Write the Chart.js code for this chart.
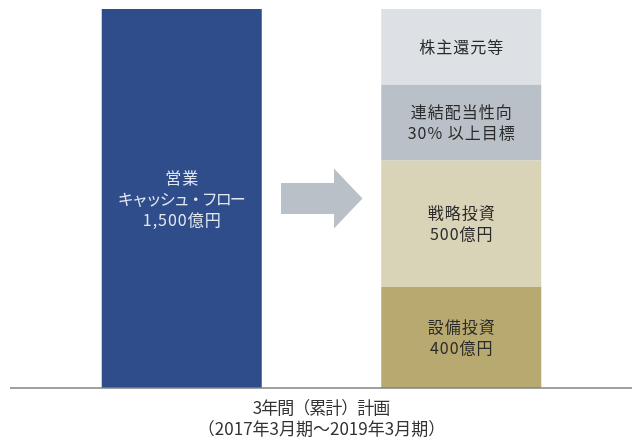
<!DOCTYPE html>
<html>
<head>
<meta charset="utf-8">
<script src="https://cdn.jsdelivr.net/npm/chart.js@4"></script>
<style>
  html, body { margin: 0; padding: 0; background: #ffffff; }
  #wrap { width: 632px; height: 447px; position: relative; }
</style>
</head>
<body>
<div id="wrap"><canvas id="c"></canvas></div>
<script>
// Categories: cash generated (left) and how it is allocated (right)
const categories = ['営業キャッシュ・フロー', '配分'];

// Values in 億円
const operatingCashFlow = [1500, null];
const capitalInvestment = [null, 400];
const strategicInvestment = [null, 500];
const dividendPolicy = [null, 300];
const shareholderReturns = [null, 300];

// Text drawn inside each bar / segment
const cashFlowLabel = ['営業', 'キャッシュ・フロー', '1,500億円'];
const capitalLabel = ['設備投資', '400億円'];
const strategicLabel = ['戦略投資', '500億円'];
const dividendLabel = ['連結配当性向', '30% 以上目標'];
const returnsLabel = ['株主還元等'];

// Period caption under the baseline
const periodCaption = ['3年間（累計）計画', '（2017年3月期～2019年3月期）'];

const FONT = '"Noto Sans CJK JP", "Noto Sans", sans-serif';

// Arrow between the two columns
const arrowPlugin = {
  id: 'arrow',
  beforeDatasetsDraw(chart) {
    const a = chart.getDatasetMeta(0).data[0];
    const b = chart.getDatasetMeta(1).data[1];
    const cx = (a.x + b.x) / 2;
    const area = chart.chartArea;
    const cy = (area.top + area.bottom) / 2;
    const ctx = chart.ctx;
    ctx.save();
    ctx.fillStyle = '#b9c0c7';
    ctx.beginPath();
    ctx.moveTo(cx - 40.5, cy - 15.5);
    ctx.lineTo(cx + 12.5, cy - 15.5);
    ctx.lineTo(cx + 12.5, cy - 30);
    ctx.lineTo(cx + 41, cy);
    ctx.lineTo(cx + 12.5, cy + 30);
    ctx.lineTo(cx + 12.5, cy + 15.5);
    ctx.lineTo(cx - 40.5, cy + 15.5);
    ctx.closePath();
    ctx.fill();
    ctx.restore();
  }
};

// Labels inside bars, baseline and the caption below it
const labelPlugin = {
  id: 'barText',
  afterDatasetsDraw(chart) {
    const ctx = chart.ctx;
    ctx.save();
    ctx.textAlign = 'center';
    ctx.textBaseline = 'middle';
    chart.data.datasets.forEach((ds, i) => {
      const meta = chart.getDatasetMeta(i);
      meta.data.forEach((el, j) => {
        if (ds.data[j] == null) return;
        const p = el.getProps(['x', 'y', 'base'], true);
        const cy = (p.y + p.base) / 2;
        const lines = ds.textLines;
        const lh = 21;
        ctx.fillStyle = ds.textColor;
        ctx.font = '16px ' + FONT;
        lines.forEach((t, k) => {
          const spacing = (ds.tightLines && ds.tightLines.includes(k)) ? -2 : 1;
          ctx.letterSpacing = spacing + 'px';
          ctx.fillText(t, p.x + spacing / 2, cy + (k - (lines.length - 1) / 2) * lh);
        });
      });
    });

    const yScale = chart.scales.y;
    const y0 = yScale.getPixelForValue(0);
    ctx.letterSpacing = '0px';
    ctx.strokeStyle = '#808080';
    ctx.lineWidth = 1.5;
    ctx.beginPath();
    ctx.moveTo(10, y0);
    ctx.lineTo(chart.width, y0);
    ctx.stroke();

    const area = chart.chartArea;
    const mid = (area.left + area.right) / 2;
    ctx.fillStyle = '#333333';
    ctx.font = '17px ' + FONT;
    periodCaption.forEach((t, k) => {
      const spacing = k === 0 ? -1 : 0;
      ctx.letterSpacing = spacing + 'px';
      ctx.fillText(t, mid + spacing / 2, y0 + 20 + k * 21);
    });
    ctx.restore();
  }
};

new Chart(document.getElementById('c'), {
  type: 'bar',
  data: {
    labels: categories,
    datasets: [
      { label: '営業キャッシュ・フロー', data: operatingCashFlow, backgroundColor: '#2e4d8a',
        textLines: cashFlowLabel, textColor: '#e2e6f0', tightLines: [1] },
      { label: '設備投資', data: capitalInvestment, backgroundColor: '#b8a970',
        textLines: capitalLabel, textColor: '#2b2b2b' },
      { label: '戦略投資', data: strategicInvestment, backgroundColor: '#d9d3b7',
        textLines: strategicLabel, textColor: '#2b2b2b' },
      { label: '連結配当性向', data: dividendPolicy, backgroundColor: '#b9c0c7',
        textLines: dividendLabel, textColor: '#2b2b2b' },
      { label: '株主還元等', data: shareholderReturns, backgroundColor: '#dde1e5',
        textLines: returnsLabel, textColor: '#2b2b2b' }
    ]
  },
  options: {
    responsive: true,
    maintainAspectRatio: false,
    animation: false,
    devicePixelRatio: 1,
    layout: { padding: { left: 42, right: 31, top: 9, bottom: 59 } },
    datasets: {
      bar: { barPercentage: 0.5725, categoryPercentage: 1, borderWidth: 0 }
    },
    scales: {
      x: { stacked: true, display: false },
      y: { stacked: true, display: false, min: 0, max: 1500 }
    },
    plugins: {
      legend: { display: false },
      tooltip: { enabled: false },
      title: { display: false }
    }
  },
  plugins: [arrowPlugin, labelPlugin]
});
</script>
</body>
</html>
